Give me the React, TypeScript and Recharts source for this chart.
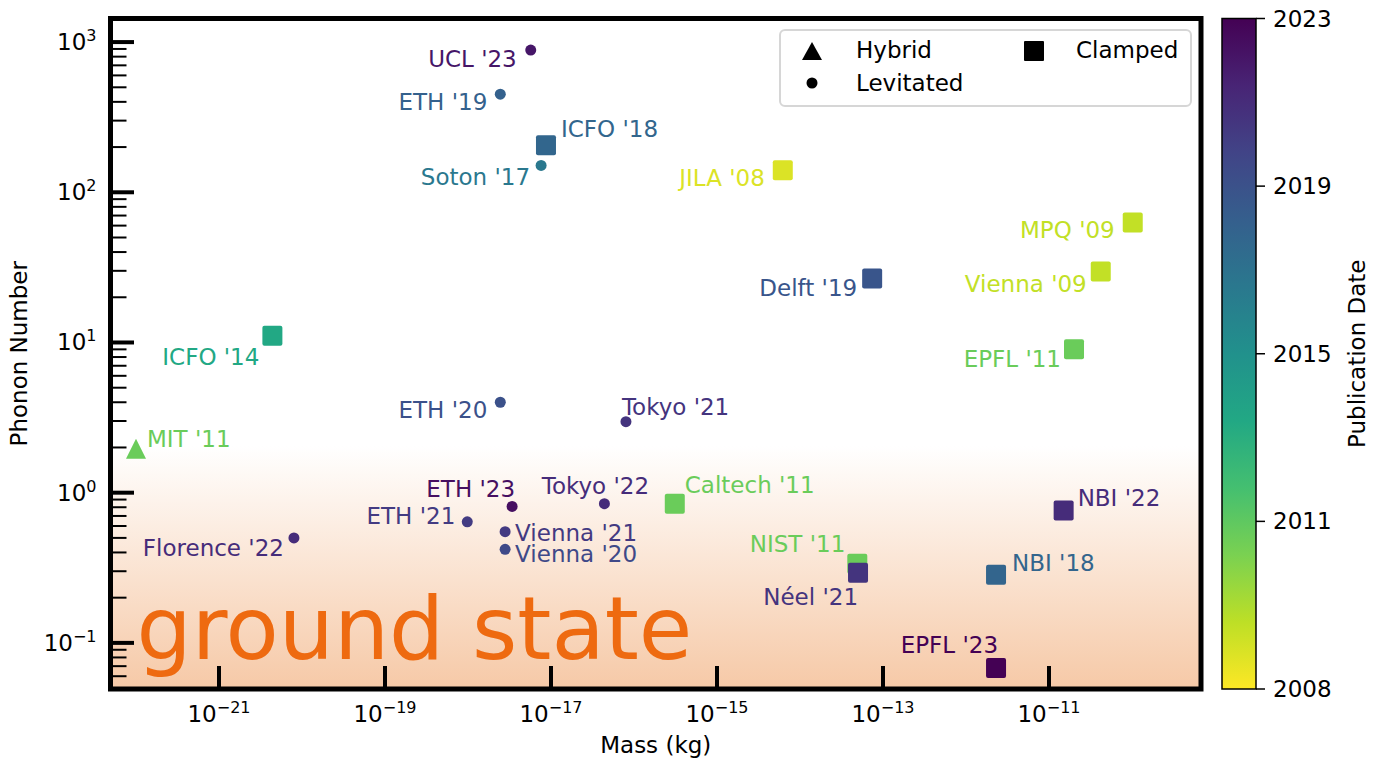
import React from 'react';
import { ScatterChart, Scatter, XAxis, YAxis, ReferenceArea, Legend, Label } from 'recharts';

const FONT = "'DejaVu Sans', sans-serif";

// mass in kg, phonon occupation, publication date as decimal year
const hybridNames = ["MIT '11"];
const hybridMass = [1.0e-22];
const hybridPhonons = [1.96];
const hybridDates = [2011.5];

const levitatedNames = ["UCL '23", "ETH '19", "Soton '17", "ETH '20", "Tokyo '21", "ETH '23", "Tokyo '22", "ETH '21", "Vienna '21", "Vienna '20", "Florence '22"];
const levitatedMass = [5.7e-18, 2.45e-18, 7.6e-18, 2.45e-18, 8.0e-17, 3.4e-18, 4.4e-17, 9.8e-19, 2.8e-18, 2.8e-18, 8.0e-21];
const levitatedPhonons = [885, 450, 151, 4.0, 2.97, 0.81, 0.845, 0.64, 0.55, 0.42, 0.5];
const levitatedDates = [2022.3, 2018.5, 2017.1, 2019.4, 2020.9, 2022.6, 2021.3, 2020.6, 2020.7, 2019.9, 2021.3];

const clampedNames = ["ICFO '18", "JILA '08", "MPQ '09", "Vienna '09", "Delft '19", "EPFL '11", "ICFO '14", "Caltech '11", "NBI '22", "NIST '11", "Néel '21", "NBI '18", "EPFL '23"];
const clampedMass = [8.7e-18, 6.2e-15, 1.02e-10, 4.2e-11, 7.4e-14, 2.0e-11, 4.4e-21, 3.1e-16, 1.5e-11, 4.9e-14, 5.0e-14, 2.3e-12, 2.3e-12];
const clampedPhonons = [206, 140, 63, 29.7, 26.7, 9.0, 11.1, 0.845, 0.76, 0.336, 0.293, 0.284, 0.068];
const clampedDates = [2018.2, 2008.8, 2009.4, 2009.4, 2019.2, 2011.5, 2014.1, 2011.5, 2021.3, 2011.5, 2020.9, 2018.3, 2023.2];

// axes (log10 exponents)
const xMajorExp = [-21, -19, -17, -15, -13, -11];
const yMajorExp = [-1, 0, 1, 2, 3];
const X_DOMAIN: [number, number] = [-22.307, -9.169];
const Y_DOMAIN: [number, number] = [-1.307, 3.157];
const GROUND_TOP = 0.31; // log10 phonon number where the ground-state fade starts

const DATE_MIN = 2008.0;
const DATE_MAX = 2023.2;

// label placement next to each marker: [anchor, dx, dy]
const labelPos: Record<string, [string, number, number]> = {
  "UCL '23": ['end', -14, 17],
  "ETH '19": ['end', -13, 16],
  "ICFO '18": ['start', 15, -8],
  "Soton '17": ['end', -11, 20],
  "JILA '08": ['end', -18, 16],
  "MPQ '09": ['end', -18, 16],
  "Vienna '09": ['end', -14, 21],
  "Delft '19": ['end', -15, 18],
  "EPFL '11": ['end', -13, 18],
  "ICFO '14": ['end', -13, 29],
  "ETH '20": ['end', -13, 16],
  "Tokyo '21": ['start', -4, -7],
  "MIT '11": ['start', 11, -2],
  "ETH '23": ['end', 3, -9],
  "Tokyo '22": ['middle', -9, -10],
  "Caltech '11": ['start', 10, -11],
  "NBI '22": ['start', 14, -5],
  "ETH '21": ['end', -12, 2],
  "Vienna '21": ['start', 10, 9],
  "Vienna '20": ['start', 10, 13],
  "Florence '22": ['end', -10, 18],
  "NIST '11": ['end', -12, -12],
  "Néel '21": ['end', 0, 32],
  "NBI '18": ['start', 16, -4],
  "EPFL '23": ['end', 2, -15],
};

const VIRIDIS = ['#440154', '#482475', '#414487', '#355f8d', '#2a788e', '#21918c', '#22a884', '#44bf70', '#7ad151', '#bddf26', '#fde725'];

const hexToRgb = (h: string) => [1, 3, 5].map((i) => parseInt(h.slice(i, i + 2), 16));

const viridis = (t: number) => {
  const tt = Math.max(0, Math.min(1, t));
  const s = tt * 10;
  const i = Math.min(9, Math.floor(s));
  const f = s - i;
  const a = hexToRgb(VIRIDIS[i]);
  const b = hexToRgb(VIRIDIS[i + 1]);
  const c = a.map((v, k) => Math.round(v + (b[k] - v) * f));
  return `rgb(${c[0]},${c[1]},${c[2]})`;
};

// viridis reversed: newest = dark purple
const dateColor = (d: number) => viridis((DATE_MAX - d) / (DATE_MAX - DATE_MIN));

const build = (names: string[], mass: number[], n: number[], dates: number[]) =>
  names.map((name, i) => ({ name, lx: Math.log10(mass[i]), ly: Math.log10(n[i]), date: dates[i] }));

const hybridData = build(hybridNames, hybridMass, hybridPhonons, hybridDates);
const levitatedData = build(levitatedNames, levitatedMass, levitatedPhonons, levitatedDates);
const clampedData = build(clampedNames, clampedMass, clampedPhonons, clampedDates);

const yMinorTicks: number[] = [];
for (let e = -2; e <= 3; e++) {
  for (let k = 2; k <= 9; k++) {
    const v = e + Math.log10(k);
    if (v > Y_DOMAIN[0] && v < Y_DOMAIN[1]) yMinorTicks.push(v);
  }
}
const yTicks = [...yMajorExp, ...yMinorTicks];

const cbTicks = [0, 1, 2, 3, 4].map((i) => DATE_MIN + ((DATE_MAX - DATE_MIN) * i) / 4);

const fmtExp = (e: number) => (e < 0 ? '\u2212' + Math.abs(e) : String(e));

const makeShape = (kind: 'triangle' | 'circle' | 'square') => (props: any) => {
  const { cx, cy, payload } = props;
  if (cx == null || cy == null) return <g />;
  const c = dateColor(payload.date);
  const [anchor, dx, dy] = labelPos[payload.name] || ['start', 10, 0];
  let marker;
  if (kind === 'square') {
    marker = <rect x={cx - 10} y={cy - 10} width={20} height={20} rx={2} fill={c} />;
  } else if (kind === 'triangle') {
    marker = <path d={`M${cx},${cy - 10}L${cx + 10},${cy + 10}L${cx - 10},${cy + 10}Z`} fill={c} />;
  } else {
    marker = <circle cx={cx} cy={cy} r={5.5} fill={c} />;
  }
  return (
    <g>
      {marker}
      <text x={cx + dx} y={cy + dy} textAnchor={anchor as any} fill={c} fontSize={23} fontFamily={FONT}>
        {payload.name}
      </text>
    </g>
  );
};

const XTick = (props: any) => {
  const { x, y, payload } = props;
  return (
    <g>
      <line x1={x} x2={x} y1={y} y2={y - 23} stroke="#000" strokeWidth={4} />
      <text x={x} y={y + 33} textAnchor="middle" fontSize={23} fontFamily={FONT} fill="#000">
        10<tspan dy={-9} fontSize={16}>{fmtExp(payload.value)}</tspan>
      </text>
    </g>
  );
};

const YTick = (props: any) => {
  const { x, y, payload } = props;
  const v = payload.value;
  const major = Math.abs(v - Math.round(v)) < 1e-9;
  if (!major) return <line x1={x} x2={x + 16} y1={y} y2={y} stroke="#000" strokeWidth={2} />;
  return (
    <g>
      <line x1={x} x2={x + 23.5} y1={y} y2={y} stroke="#000" strokeWidth={4} />
      <text x={x - 14} y={y + 8} textAnchor="end" fontSize={23} fontFamily={FONT} fill="#000">
        10<tspan dy={-9} fontSize={16}>{fmtExp(Math.round(v))}</tspan>
      </text>
    </g>
  );
};

const LegendBox = () => (
  <svg width={414} height={80} style={{ display: 'block', fontFamily: FONT }}>
    <rect x={1} y={1} width={411} height={76} rx={5} fill="#fff" fillOpacity={0.8} stroke="#d6d6d6" strokeWidth={2} />
    <path d="M33,13L43,31L23,31Z" fill="#000" />
    <text x={77} y={29} fontSize={23} fill="#000">Hybrid</text>
    <circle cx={33} cy={54} r={5.5} fill="#000" />
    <text x={77} y={62} fontSize={23} fill="#000">Levitated</text>
    <rect x={245} y={12} width={20} height={20} rx={1} fill="#000" />
    <text x={297} y={29} fontSize={23} fill="#000">Clamped</text>
  </svg>
);

const CB = { x: 1222, y: 18.5, w: 34, h: 670.5 };

const Colorbar = () => (
  <svg width={1382} height={760} style={{ position: 'absolute', left: 0, top: 0, pointerEvents: 'none' }} fontFamily={FONT}>
    <defs>
      <linearGradient id="cbGrad" x1="0" y1="0" x2="0" y2="1">
        {VIRIDIS.map((c, i) => (
          <stop key={i} offset={i / (VIRIDIS.length - 1)} stopColor={c} />
        ))}
      </linearGradient>
      <linearGradient id="gsFade" x1="0" y1="0" x2="0" y2="1">
        <stop offset="0" stopColor="#ffffff" />
        <stop offset="1" stopColor="#f6c9a7" />
      </linearGradient>
    </defs>
    <rect x={CB.x} y={CB.y} width={CB.w} height={CB.h} fill="url(#cbGrad)" stroke="#000" strokeWidth={1.5} />
    {cbTicks.map((d, i) => {
      const ty = CB.y + ((DATE_MAX - d) / (DATE_MAX - DATE_MIN)) * CB.h;
      return (
        <g key={i}>
          <line x1={CB.x + CB.w} x2={CB.x + CB.w + 9} y1={ty} y2={ty} stroke="#000" strokeWidth={1.5} />
          <text x={CB.x + CB.w + 17} y={ty + 8} fontSize={23} fill="#000">{Math.floor(d + 1e-6)}</text>
        </g>
      );
    })}
    <text x={1365} y={CB.y + CB.h / 2} fontSize={23} fill="#000" textAnchor="middle" transform={`rotate(-90 1365 ${CB.y + CB.h / 2})`}>
      Publication Date
    </text>
  </svg>
);

export default function App() {
  return (
    <div style={{ position: 'absolute', left: 0, top: 0, width: 1382, height: 760, background: '#fff' }}>
      <ScatterChart width={1382} height={760} margin={{ top: 18.5, right: 181, bottom: 0, left: 0 }}>
        <ReferenceArea
          x1={X_DOMAIN[0]}
          x2={X_DOMAIN[1]}
          y1={Y_DOMAIN[0]}
          y2={GROUND_TOP}
          fill="url(#gsFade)"
          fillOpacity={1}
          stroke="none"
          ifOverflow="visible"
          label={(p: any) => {
            const vb = p.viewBox;
            return (
              <text x={vb.x + 26} y={vb.y + vb.height - 30} fontSize={87} fill="#ee6a10" fontFamily={FONT}>
                ground state
              </text>
            );
          }}
        />
        <XAxis
          type="number"
          dataKey="lx"
          domain={X_DOMAIN}
          ticks={xMajorExp}
          allowDataOverflow
          interval={0}
          height={71}
          tickSize={0}
          tickMargin={0}
          tickLine={false}
          axisLine={false}
          tick={(p: any) => <XTick {...p} />}
        >
          <Label
            content={(p: any) => {
              const vb = p.viewBox;
              return (
                <text x={vb.x + vb.width / 2} y={vb.y + 64} textAnchor="middle" fontSize={23} fontFamily={FONT} fill="#000">
                  Mass (kg)
                </text>
              );
            }}
          />
        </XAxis>
        <YAxis
          type="number"
          dataKey="ly"
          domain={Y_DOMAIN}
          ticks={yTicks}
          allowDataOverflow
          interval={0}
          width={110.5}
          tickSize={0}
          tickMargin={0}
          tickLine={false}
          axisLine={false}
          tick={(p: any) => <YTick {...p} />}
        >
          <Label
            content={(p: any) => {
              const vb = p.viewBox;
              const cy = vb.y + vb.height / 2;
              return (
                <text x={27} y={cy} textAnchor="middle" fontSize={23} fontFamily={FONT} fill="#000" transform={`rotate(-90 27 ${cy})`}>
                  Phonon Number
                </text>
              );
            }}
          />
        </YAxis>
        <Scatter name="Hybrid" data={hybridData} shape={makeShape('triangle')} isAnimationActive={false} />
        <Scatter name="Levitated" data={levitatedData} shape={makeShape('circle')} isAnimationActive={false} />
        <Scatter name="Clamped" data={clampedData} shape={makeShape('square')} isAnimationActive={false} />
        <ReferenceArea
          x1={X_DOMAIN[0]}
          x2={X_DOMAIN[1]}
          y1={Y_DOMAIN[0]}
          y2={Y_DOMAIN[1]}
          fill="none"
          fillOpacity={0}
          stroke="#000"
          strokeWidth={5}
          ifOverflow="visible"
        />
        <Legend
          layout="horizontal"
          verticalAlign="middle"
          align="center"
          content={() => <LegendBox />}
          wrapperStyle={{ position: 'absolute', left: 779, top: 29, width: 414, height: 80 }}
        />
      </ScatterChart>
      <Colorbar />
    </div>
  );
}
